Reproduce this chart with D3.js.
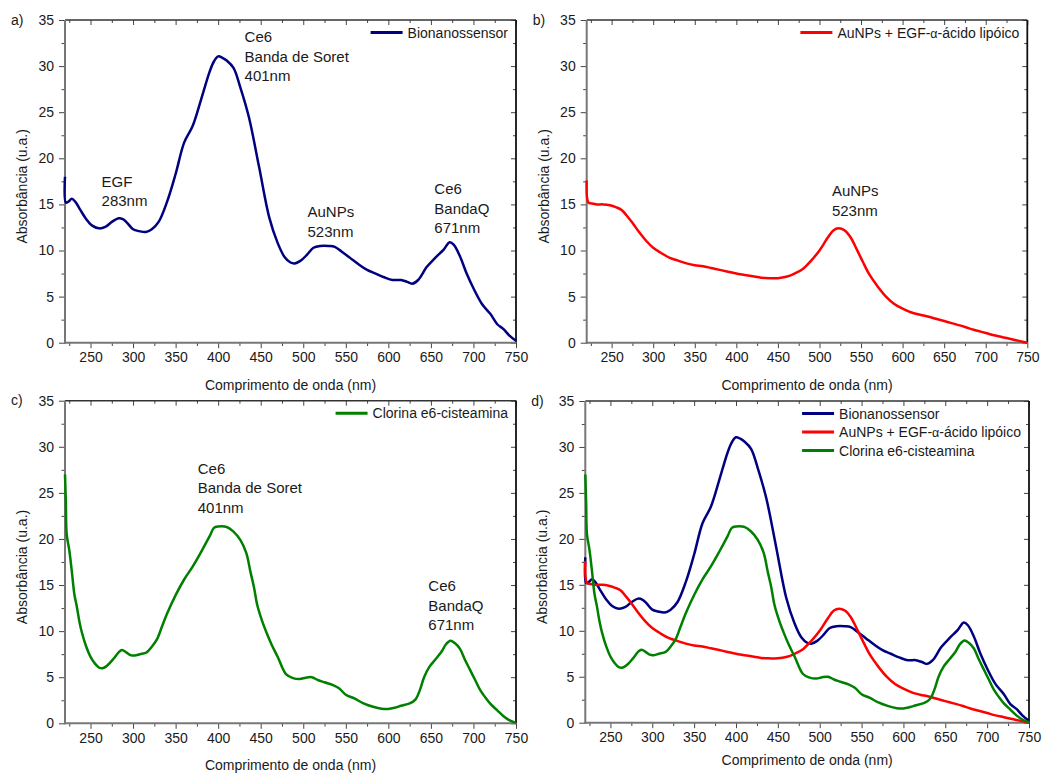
<!DOCTYPE html>
<html>
<head>
<meta charset="utf-8">
<script src="https://cdn.jsdelivr.net/npm/d3@7"></script>
<style>
  body { margin: 0; background: #fff; }
  text { font-family: "Liberation Sans", Arial, sans-serif; fill: #1a1a1a; }
</style>
</head>
<body>
<div id="chart"></div>
<script>
// Bionanossensor spectrum (nm, u.a.)
var bioWl  = [220,221,224,228,232,238,245,252,260,268,275,283,288,293,300,307,315,322,330,340,350,360,370,380,390,395,400,405,410,418,426,436,448,460,470,478,485,490,497,505,512,520,530,537,545,555,565,575,585,595,605,615,622,628,635,645,655,665,672,677,684,692,700,710,720,728,735,742,750];
var bioAbs = [18.0,15.2,15.3,15.6,15.3,14.4,13.4,12.7,12.4,12.6,13.1,13.5,13.4,13.0,12.3,12.1,12.0,12.3,13.1,15.3,18.3,21.7,23.5,26.4,29.4,30.5,31.05,30.9,30.6,29.8,27.7,24.5,19.1,13.6,10.8,9.3,8.7,8.6,8.9,9.6,10.3,10.5,10.5,10.4,9.9,9.2,8.5,7.9,7.5,7.1,6.8,6.8,6.6,6.4,6.8,8.2,9.2,10.1,10.9,10.6,9.4,7.5,5.9,4.2,3.1,2.0,1.5,0.8,0.2];

// AuNPs + EGF-alfa-acido lipoico spectrum
var auWl  = [220,222,226,232,240,248,255,262,268,275,283,292,300,310,320,330,340,350,360,370,380,390,400,410,420,430,440,450,460,470,480,490,500,510,517,523,530,537,545,552,560,570,580,590,600,610,620,630,640,650,660,670,680,690,700,710,720,730,740,750];
var auAbs = [17.6,15.2,15.1,15.0,15.0,14.9,14.7,14.4,13.8,13.0,12.0,11.0,10.3,9.7,9.2,8.9,8.6,8.4,8.3,8.1,7.9,7.7,7.5,7.35,7.2,7.05,7.0,7.0,7.15,7.5,8.0,8.9,10.0,11.4,12.2,12.4,12.2,11.5,10.1,8.8,7.4,6.1,5.0,4.2,3.7,3.3,3.05,2.85,2.6,2.35,2.1,1.85,1.55,1.3,1.05,0.8,0.6,0.4,0.2,0.0];

// Clorina e6-cisteamina spectrum
var ceWl  = [220,221,222,225,228,231,234,237,240,245,250,255,260,265,270,277,283,287,292,297,302,308,316,322,328,334,340,350,360,370,380,390,395,400,410,418,426,433,438,442,446,452,457,463,470,480,488,496,503,510,517,525,535,542,550,560,570,582,592,600,608,615,625,632,637,642,648,655,662,668,673,678,684,690,696,702,708,714,720,728,735,742,750];
var ceAbs = [27.0,24.0,20.5,18.8,16.5,14.0,12.6,11.0,9.8,8.3,7.2,6.5,6.05,6.0,6.3,7.0,7.7,7.95,7.7,7.4,7.35,7.5,7.7,8.3,9.1,10.5,11.9,13.9,15.6,17.0,18.6,20.3,21.2,21.35,21.3,20.8,19.9,18.5,16.4,14.8,12.8,11.0,9.8,8.5,7.2,5.3,4.9,4.8,4.95,5.0,4.7,4.45,4.15,3.8,3.1,2.7,2.2,1.8,1.58,1.55,1.7,1.9,2.15,2.6,3.6,5.0,6.1,6.9,7.7,8.6,8.95,8.7,8.1,6.9,5.8,4.7,3.6,2.8,2.1,1.4,0.8,0.35,0.05];

// ticks
var xTicks = [250,300,350,400,450,500,550,600,650,700,750];
var xMinor = [225,275,325,375,425,475,525,575,625,675,725];
var yTicks = [0,5,10,15,20,25,30,35];
var yMinor = [2.5,7.5,12.5,17.5,22.5,27.5,32.5];

var xTitle = "Comprimento de onda (nm)";
var yTitle = "Absorbância (u.a.)";

var series = {
  bio: { name: ["Bionanossensor"], color: "#000080", wl: bioWl, ab: bioAbs },
  au:  { name: ["AuNPs + EGF-", "α", "-ácido lipóico"], color: "#ff0000", wl: auWl, ab: auAbs },
  ce:  { name: ["Clorina e6-cisteamina"], color: "#008000", wl: ceWl, ab: ceAbs }
};

// annotations, anchored in data units (nm, u.a.)
var panels = [
  { tag: "a)", x0: 65, x1: 516, y0: 20, y1: 342.7, tGap: 47, lines: ["bio"],
    notes: [ { w: 431, v: 32.6, t: ["Ce6", "Banda de Soret", "401nm"] },
             { w: 263, v: 16.9, t: ["EGF", "283nm"] },
             { w: 505, v: 13.6, t: ["AuNPs", "523nm"] },
             { w: 654, v: 16.1, t: ["Ce6", "BandaQ", "671nm"] } ] },
  { tag: "b)", x0: 586.7, x1: 1027.3, y0: 20, y1: 342.7, tGap: 47, lines: ["au"],
    notes: [ { w: 515, v: 15.9, t: ["AuNPs", "523nm"] } ] },
  { tag: "c)", x0: 65, x1: 516, y0: 400.7, y1: 723.3, tGap: 47, lines: ["ce"],
    notes: [ { w: 376, v: 27.05, t: ["Ce6", "Banda de Soret", "401nm"] },
             { w: 647, v: 14.3, t: ["Ce6", "BandaQ", "671nm"] } ] },
  { tag: "d)", x0: 585.3, x1: 1029, y0: 401, y1: 722.7, tGap: 42, lines: ["bio", "au", "ce"], notes: [] }
];

var W = 1063, H = 773;
var svg = d3.select("#chart").append("svg").attr("width", W).attr("height", H);

function bare(a) {
  a.select(".domain").remove();
  a.selectAll("line").attr("stroke", "#444");
}

panels.forEach(function(p) {
  var x = d3.scaleLinear().domain([220, 750]).range([p.x0, p.x1]);
  var y = d3.scaleLinear().domain([0, 35]).range([p.y1, p.y0]);
  var g = svg.append("g");

  // inner ticks on top and right
  g.append("g").attr("transform", "translate(0," + p.y0 + ")")
    .call(d3.axisBottom(x).tickValues(xTicks).tickSize(5).tickFormat("")).call(bare);
  g.append("g").attr("transform", "translate(0," + p.y0 + ")")
    .call(d3.axisBottom(x).tickValues(xMinor).tickSize(3).tickFormat("")).call(bare);
  g.append("g").attr("transform", "translate(" + p.x1 + ",0)")
    .call(d3.axisLeft(y).tickValues(yTicks).tickSize(5).tickFormat("")).call(bare);
  g.append("g").attr("transform", "translate(" + p.x1 + ",0)")
    .call(d3.axisLeft(y).tickValues(yMinor).tickSize(3).tickFormat("")).call(bare);

  // bottom axis
  var xa = g.append("g").attr("transform", "translate(0," + p.y1 + ")")
    .call(d3.axisBottom(x).tickValues(xTicks).tickSize(5.5).tickPadding(4).tickFormat(d3.format("d")))
    .call(bare);
  g.append("g").attr("transform", "translate(0," + p.y1 + ")")
    .call(d3.axisBottom(x).tickValues(xMinor).tickSize(3.3).tickFormat("")).call(bare);
  xa.selectAll("text").attr("font-size", 14).attr("font-family", null);
  // left axis
  var ya = g.append("g").attr("transform", "translate(" + p.x0 + ",0)")
    .call(d3.axisLeft(y).tickValues(yTicks).tickSize(6).tickPadding(5)).call(bare);
  g.append("g").attr("transform", "translate(" + p.x0 + ",0)")
    .call(d3.axisLeft(y).tickValues(yMinor).tickSize(3.5).tickFormat("")).call(bare);
  ya.selectAll("text").attr("font-size", 14).attr("font-family", null);

  // frame
  g.append("line").attr("x1", p.x0).attr("x2", p.x1).attr("y1", p.y0).attr("y2", p.y0)
    .attr("stroke", "#333").attr("stroke-width", 1.5);
  g.append("line").attr("x1", p.x1).attr("x2", p.x1).attr("y1", p.y0).attr("y2", p.y1)
    .attr("stroke", "#111").attr("stroke-width", 1.8);
  g.append("line").attr("x1", p.x0).attr("x2", p.x0).attr("y1", p.y0).attr("y2", p.y1 + 1)
    .attr("stroke", "#777").attr("stroke-width", 2);
  g.append("line").attr("x1", p.x0 - 1).attr("x2", p.x1).attr("y1", p.y1).attr("y2", p.y1)
    .attr("stroke", "#777").attr("stroke-width", 2);

  // titles
  g.append("text").attr("x", (p.x0 + p.x1) / 2).attr("y", p.y1 + p.tGap)
    .attr("text-anchor", "middle").attr("font-size", 14).text(xTitle);
  g.append("text").attr("transform", "translate(" + (p.x0 - 38) + "," + ((p.y0 + p.y1) / 2 + 5) + ") rotate(-90)")
    .attr("text-anchor", "middle").attr("font-size", 14).text(yTitle);
  g.append("text").attr("x", p.x0 - 54).attr("y", p.y0 + 4.5).attr("font-size", 14).text(p.tag);

  // curves
  var line = d3.line().x(function(d) { return x(d[0]); }).y(function(d) { return y(d[1]); })
    .curve(d3.curveCatmullRom.alpha(0.5));
  p.lines.forEach(function(k) {
    var s = series[k];
    var pts = s.wl.map(function(v, i) { return [v, s.ab[i]]; });
    g.append("path").datum(pts).attr("d", line).attr("fill", "none")
      .attr("stroke", s.color).attr("stroke-width", 2.5).attr("stroke-linejoin", "round");
  });

  // legend
  var leg = g.append("g");
  var texts = p.lines.map(function(k, i) {
    var t = leg.append("text").attr("y", p.y0 + 17.5 + i * 18.5).attr("font-size", 14);
    series[k].name.forEach(function(part) {
      var ts = t.append("tspan").text(part);
      if (part === "α") ts.attr("font-size", 12.5);
    });
    return t;
  });
  var maxW = d3.max(texts, function(t) { return t.node().getComputedTextLength(); });
  var tx = p.x1 - 8 - maxW;
  texts.forEach(function(t, i) {
    t.attr("x", tx);
    leg.append("line").attr("x1", tx - 37).attr("x2", tx - 5)
      .attr("y1", p.y0 + 12.5 + i * 18.5).attr("y2", p.y0 + 12.5 + i * 18.5)
      .attr("stroke", series[p.lines[i]].color).attr("stroke-width", 3);
  });

  // annotations
  p.notes.forEach(function(n) {
    var t = g.append("text").attr("font-size", 15);
    n.t.forEach(function(s, i) {
      t.append("tspan").attr("x", x(n.w)).attr("y", y(n.v) + i * 19.5).text(s);
    });
  });
});
</script>
</body>
</html>
